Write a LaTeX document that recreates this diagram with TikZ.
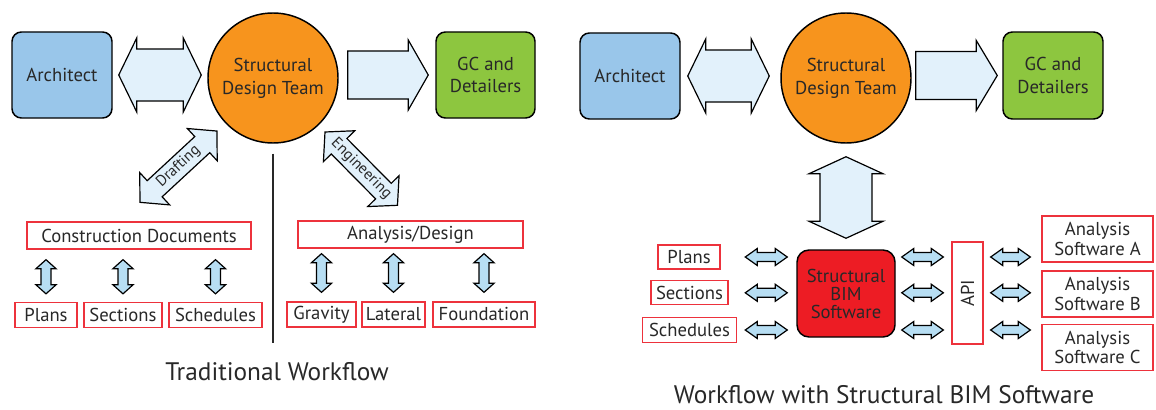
\documentclass[tikz,border=0pt]{standalone}
\usepackage{fontspec}
\setmainfont{PT Sans}
\usetikzlibrary{calc}

\definecolor{ink}{RGB}{40,40,40}
\definecolor{archblue}{RGB}{153,198,234}
\definecolor{teamorange}{RGB}{247,148,29}
\definecolor{gcgreen}{RGB}{141,198,63}
\definecolor{bimred}{RGB}{237,28,36}
\definecolor{boxred}{RGB}{237,50,60}
\definecolor{paleblue}{RGB}{226,241,251}
\definecolor{smallblue}{RGB}{183,222,243}

% picture units are pixels of the reference
\newcommand{\pxl}[1]{#1*0.75pt}

% fat arrows: [style]{from}{to}{half shaft}{half head}{head length}
\newcommand{\fatdouble}[6][]{%
  \draw[fat,#1] let \p1=(#2), \p2=(#3),
    \n1={atan2((\y2)-(\y1),(\x2)-(\x1))}, \n2={veclen((\x2)-(\x1),(\y2)-(\y1))} in
    [shift={(\p1)}, rotate=\n1]
    (0pt,0pt) -- ({#6*0.75pt},{#5*0.75pt}) -- ({#6*0.75pt},{#4*0.75pt})
    -- ({\n2-#6*0.75pt},{#4*0.75pt}) -- ({\n2-#6*0.75pt},{#5*0.75pt}) -- ({\n2+0pt},0pt)
    -- ({\n2-#6*0.75pt},{-#5*0.75pt}) -- ({\n2-#6*0.75pt},{-#4*0.75pt})
    -- ({#6*0.75pt},{-#4*0.75pt}) -- ({#6*0.75pt},{-#5*0.75pt}) -- cycle;}
\newcommand{\fatsingle}[6][]{%
  \draw[fat,#1] let \p1=(#2), \p2=(#3),
    \n1={atan2((\y2)-(\y1),(\x2)-(\x1))}, \n2={veclen((\x2)-(\x1),(\y2)-(\y1))} in
    [shift={(\p1)}, rotate=\n1]
    (0pt,{#4*0.75pt}) -- ({\n2-#6*0.75pt},{#4*0.75pt}) -- ({\n2-#6*0.75pt},{#5*0.75pt})
    -- ({\n2+0pt},0pt) -- ({\n2-#6*0.75pt},{-#5*0.75pt}) -- ({\n2-#6*0.75pt},{-#4*0.75pt})
    -- (0pt,{-#4*0.75pt}) -- cycle;}

\begin{document}
\begin{tikzpicture}[x=0.75pt, y=-0.75pt,
    txt/.style={text=ink, font=\fontsize{14}{17}\selectfont, align=center},
    role/.style={txt, draw=black, line width=1.1pt, rounded corners=7pt, inner sep=0pt,
      minimum width=\pxl{100}, minimum height=\pxl{86}},
    team/.style={txt, circle, draw=black, line width=1.1pt, fill=teamorange, inner sep=0pt,
      minimum size=\pxl{130}},
    docbox/.style={txt, draw=boxred, line width=1pt, fill=white, inner sep=0pt,
      minimum height=\pxl{25}},
    fat/.style={draw=black, line width=0.9pt, fill=paleblue},
    small/.style={fill=smallblue},
    lbl/.style={text=ink, font=\fontsize{11.5}{13}\selectfont, inner sep=0pt},
    heading/.style={text=ink, font=\fontsize{19}{21}\selectfont}]

  \useasboundingbox (0,0) rectangle (1156,410);

  % Traditional workflow
  \node[role, fill=archblue] (arch1) at (62,75) {Architect};
  \node[team] (team1) at (273,78) {Structural\\Design Team};
  \node[role, fill=gcgreen, minimum width=\pxl{99}] (gc1) at (485.5,75) {GC and\\Detailers};

  \fatdouble{$(arch1.east)+(6,0)$}{$(arch1.east -| team1.west)+(-6,0)$}{26}{37}{18}
  \fatsingle{$(gc1.west -| team1.east)+(9,0)$}{$(gc1.west)+(-7,0)$}{24}{35}{20}

  \node[docbox, minimum width=\pxl{224}, minimum height=\pxl{27}] (cd1) at (139,235.5) {Construction Documents};
  \node[docbox, minimum width=\pxl{225}, minimum height=\pxl{27}] (ad1) at (410.5,234.5) {Analysis/Design};

  % Drafting / Engineering
  \coordinate (dr1) at ($(cd1.north)+(1,-19)$);
  \coordinate (dr2) at ($(team1.center)+(-56,53)$);
  \fatdouble{dr1}{dr2}{11}{22}{20}
  \node[lbl, rotate=43] (drlbl) at ($(dr1)!0.5!(dr2)$) {Drafting};

  \coordinate (en1) at ($(team1.center)+(52,54)$);
  \coordinate (en2) at ($(ad1.north)+(-13,-15)$);
  \fatdouble{en1}{en2}{11}{22}{20}
  \node[lbl, rotate=-45] (enlbl) at ($(en1)!0.5!(en2)$) {Engineering};

  % separator
  \draw[line width=1.1pt, ink] ($(team1.south)+(0,10)$) -- ++(0,189);

  \node[docbox, minimum width=\pxl{62}] (plans1) at (46,315) {Plans};
  \node[docbox, minimum width=\pxl{78}] (sections1) at (123,315) {Sections};
  \node[docbox, minimum width=\pxl{93}] (schedules1) at (215.5,315) {Schedules};
  \node[docbox, minimum width=\pxl{69}] (gravity1) at (321.5,314.5) {Gravity};
  \node[docbox, minimum width=\pxl{63}] (lateral1) at (393.5,314.5) {Lateral};
  \node[docbox, minimum width=\pxl{102}] (foundation1) at (484,314.5) {Foundation};

  \foreach \b in {plans1,sections1,schedules1}
    \fatdouble[small]{$(\b.north |- cd1.south)+(0,10)$}{$(\b.north)+(0,-8)$}{5}{10}{9};
  \foreach \b in {gravity1,lateral1,foundation1}
    \fatdouble[small]{$(\b.north |- ad1.south)+(0,5)$}{$(\b.north)+(0,-9)$}{5}{10}{9};

  \node[heading] (title1) at (277,372) {Traditional Workflow};

  % Workflow with BIM
  \node[role, fill=archblue] (arch2) at (630,76) {Architect};
  \node[team] (team2) at (846,78) {Structural\\Design Team};
  \node[role, fill=gcgreen, minimum height=\pxl{87}] (gc2) at (1053,75.5) {GC and\\Detailers};

  \fatdouble{$(arch2.east)+(7,0)$}{$(arch2.east -| team2.west)+(-11,0)$}{26}{37}{18}
  \fatsingle{$(gc2.west -| team2.east)+(4,0)$}{$(gc2.west)+(-5,0)$}{24}{35}{21}

  \node[txt, draw=black, line width=1.1pt, fill=bimred, rounded corners=9pt, inner sep=0pt,
    minimum width=\pxl{98}, minimum height=\pxl{87}, font=\fontsize{14}{13.5}\selectfont]
    (bim) at (846,293.5) {Structural\\BIM\\Software};
  \fatdouble{$(team2.south)+(0,13)$}{$(bim.north)+(0,-11)$}{26}{37}{17}

  \node[docbox, minimum width=\pxl{62}, minimum height=\pxl{24}] (plans2) at (689,257) {Plans};
  \node[docbox, minimum width=\pxl{77}, minimum height=\pxl{24}] (sections2) at (689.5,292.8) {Sections};
  \node[docbox, minimum width=\pxl{94}] (schedules2) at (689.5,330) {Schedules};

  \node[docbox, minimum width=\pxl{31}, minimum height=\pxl{102}] (api) at (967.5,293) {\rotatebox{90}{API}};

  \node[docbox, minimum width=\pxl{111}, minimum height=\pxl{46}, font=\fontsize{14}{14.3}\selectfont] (anaA) at (1097.5,239) {Analysis\\Software A};
  \node[docbox, minimum width=\pxl{111}, minimum height=\pxl{46}, font=\fontsize{14}{14.3}\selectfont] (anaB) at (1097.5,294) {Analysis\\Software B};
  \node[docbox, minimum width=\pxl{111}, minimum height=\pxl{46}, font=\fontsize{14}{14.3}\selectfont] (anaC) at (1097.5,347.5) {Analysis\\Software C};

  \foreach \r in {plans2,sections2,schedules2} {
    \fatdouble[small]{$(bim.west |- \r)+(-51,0)$}{$(bim.west |- \r)+(-9,0)$}{4.5}{8.5}{12}
    \fatdouble[small]{$(bim.east |- \r)+(6,0)$}{$(api.west |- \r)+(-8,0)$}{4.5}{8.5}{12}
    \fatdouble[small]{$(api.east |- \r)+(7,0)$}{$(anaA.west |- \r)+(-11,0)$}{4.5}{8.5}{12}
  }

  \node[heading] (title2) at (884,395) {Workflow with Structural BIM Software};

\end{tikzpicture}
\end{document}
